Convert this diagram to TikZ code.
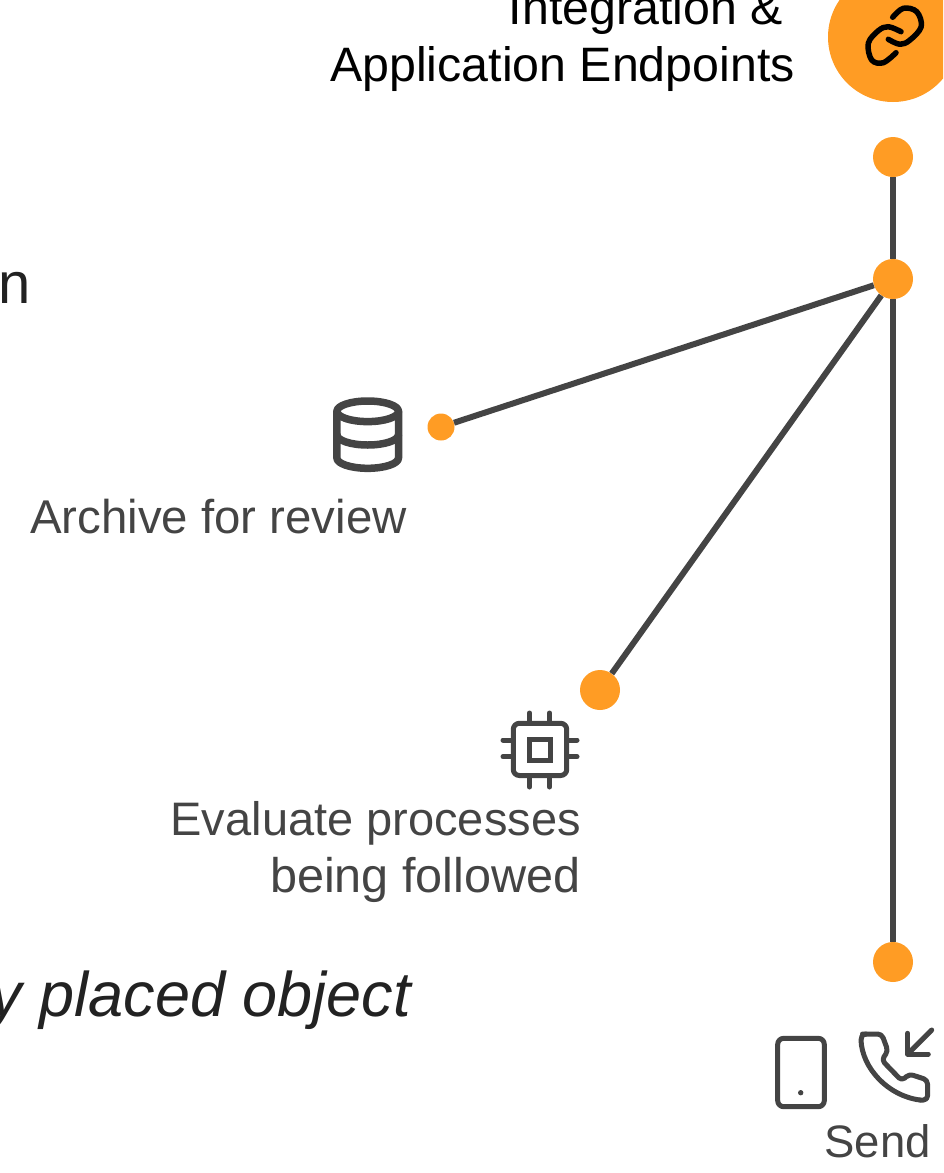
\documentclass[tikz,border=0pt]{standalone}
\usepackage{fontspec}
\setmainfont{Liberation Sans}
\definecolor{orng}{HTML}{FF9C24}
\definecolor{gry}{HTML}{444444}
\definecolor{ink}{HTML}{222222}
\tikzset{
  dotbig/.style={circle,fill=orng,draw=none,inner sep=0pt,minimum size=40pt},
  dotsmall/.style={circle,fill=orng,draw=none,inner sep=0pt,minimum size=27pt},
  conn/.style={draw=gry,line width=6pt},
  icon/.style={draw=gry,line width=5pt,line cap=round,line join=round},
  iconthick/.style={draw=gry,line width=7.5pt,line cap=round,line join=round},
  lbl/.style={anchor=base east,inner sep=0pt,text=gry,font=\fontsize{47.4}{47.4}\selectfont},
  lblblack/.style={anchor=base east,inner sep=0pt,text=black,font=\fontsize{48.3}{48.3}\selectfont},
}
\begin{document}
\begin{tikzpicture}[x=1pt,y=-1pt]
\useasboundingbox (0,0) rectangle (943,1173);
\clip (0,0) rectangle (943,1173);
% big circle
\node[circle,fill=orng,inner sep=0pt,minimum size=130pt] (hub) at (893,37) {};
\draw[black,line width=5.5pt,line cap=round,line join=round]
  plot[smooth,tension=0.6] coordinates {(888.3,39.3) (900,44.3) (910,40) (921.2,26.7) (916.7,11.7) (903.3,8.3) (892.7,17.3)};
\draw[black,line width=5.5pt,line cap=round,line join=round]
  plot[smooth,tension=0.6] coordinates {(901,31.7) (888.3,26.7) (878.3,30.7) (868.3,43.3) (871.7,60) (883.3,62.7) (896,52.7)};
% connectors
\node[dotbig] (top) at (893,157) {};
\node[dotbig] (mid) at (893,279) {};
\node[dotbig] (bot) at (893,962) {};
\node[dotbig] (chipdot) at (600,690) {};
\node[dotsmall] (dbdot) at (441,427) {};
\draw[conn] (top) -- (mid);
\draw[conn] (mid) -- (bot);
\draw[conn] (mid) -- (dbdot);
\draw[conn] (mid) -- (chipdot);
% labels
\node[lblblack] (l1) at (783,24) {Integration \&};
\node[lblblack] (l2) at (795,81) {Application Endpoints};
\node[lbl,text=ink,font=\fontsize{58}{58}\selectfont] (l3) at (31,303) {n};
\node[lbl] (l4) at (407,533) {Archive for review};
\node[lbl,font=\fontsize{47}{47}\selectfont] (l5) at (581,835.5) {Evaluate processes};
\node[lbl,font=\fontsize{48.6}{48.6}\selectfont] (l6) at (581,892) {being followed};
\node[lbl,text=ink,font=\fontsize{63}{63}\selectfont\itshape] (l7) at (411,1016.5) {y placed object};
\node[lbl,font=\fontsize{45.5}{45.5}\selectfont] (l8) at (931,1157.5) {Send};
% database icon
\draw[iconthick] (367.7,411.3) ellipse [x radius=30.8, y radius=10.3];
\draw[iconthick] (336.9,411.3) -- (336.9,458) arc [start angle=180,end angle=0,x radius=30.8,y radius=10.3] -- (398.5,411.3);
\draw[iconthick] (336.9,434.7) arc [start angle=180,end angle=0,x radius=30.8,y radius=10.3];
% chip icon
\draw[icon,rounded corners=6pt] (513.3,723.3) rectangle (566.7,775.5);
\draw[icon,line cap=butt,line join=miter] (529.3,739.5) rectangle (550,760.5);
\foreach \p in {529.5,549.5}{
  \draw[icon] (\p,713) -- (\p,722);
  \draw[icon] (\p,778) -- (\p,787);
}
\foreach \p in {740,756.7}{
  \draw[icon] (503,\p) -- (512,\p);
  \draw[icon] (569,\p) -- (577,\p);
}
% tablet icon
\draw[icon,rounded corners=6pt] (777.7,1038.3) rectangle (824.3,1106.7);
\fill[gry] (800.7,1092.7) circle (2.7);
% phone icon
\draw[icon,rounded corners=4pt] (862.5,1034) -- (881.7,1034) -- (888,1051) -- (881.7,1060) -- (901.7,1080.7) -- (909.3,1074) -- (927.5,1080) -- (927.5,1100) -- (920,1100);
\draw[icon] (920,1100) .. controls (888,1096) and (862,1068) .. (861,1040) .. controls (861,1037) and (862,1034.5) .. (866,1034);
\draw[icon] (931.7,1030) -- (907.7,1054);
\draw[icon] (907.7,1033.3) -- (907.7,1054) -- (928.3,1054);
\end{tikzpicture}
\end{document}
